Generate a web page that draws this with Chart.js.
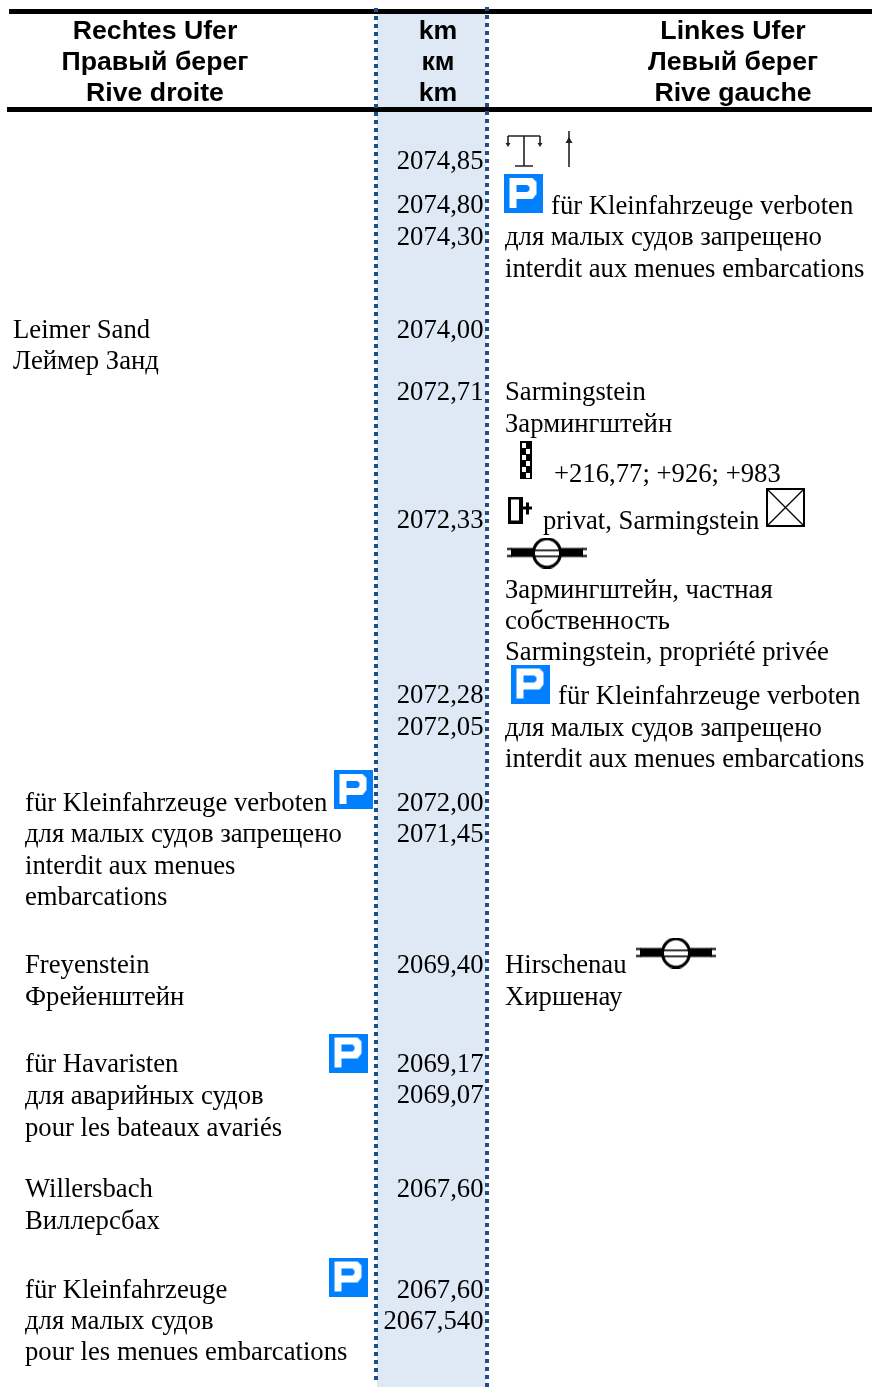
<!DOCTYPE html>
<html><head><meta charset="utf-8">
<script src="https://cdn.jsdelivr.net/npm/chart.js@4"></script>
<style>html,body{margin:0;padding:0;background:#fff;overflow:hidden}canvas{display:block}</style>
</head><body><canvas id="c" width="872" height="1387"></canvas>
<script>
// ---- data: text of each column and where it sits on the sheet's axes ----
const headerRight = ["Rechtes Ufer", "Правый берег", "Rive droite"];
const headerKm = ["km", "км", "km"];
const headerLeft = ["Linkes Ufer", "Левый берег", "Rive gauche"];
const headerRows = [30, 61, 92.5];

const kmLabels = ["2074,85","2074,80","2074,30","2074,00","2072,71","2072,33","2072,28","2072,05","2072,00","2071,45","2069,40","2069,17","2069,07","2067,60","2067,60","2067,540"];
const kmRows = [160,204,236,329,391,519,694,726,802,833,964,1063,1094,1188,1289,1320];

const rightBankLines = ["Leimer Sand","Леймер Занд","für Kleinfahrzeuge verboten","для малых судов запрещено","interdit aux menues","embarcations","Freyenstein","Фрейенштейн","für Havaristen","для аварийных судов","pour les bateaux avariés","Willersbach","Виллерсбах","für Kleinfahrzeuge","для малых судов","pour les menues embarcations"];
const rightBankRows = [329,360,802,833,865,896,964,996,1063,1095,1127,1188,1220,1289,1320,1351];
const rightBankCols = [13,13,25,25,25,25,25,25,25,25,25,25,25,25,25,25];

const leftBankLines = ["für Kleinfahrzeuge verboten","для малых судов запрещено","interdit aux menues embarcations","Sarmingstein","Зармингштейн","+216,77; +926; +983","privat, Sarmingstein","Зармингштейн, частная","собственность","Sarmingstein, propriété privée","für Kleinfahrzeuge verboten","для малых судов запрещено","interdit aux menues embarcations","Hirschenau","Хиршенау"];
const leftBankRows = [205,236,268,391,423,473,520,589,620,651,695,727,758,964,996];
const leftBankCols = [551,505,505,505,505,554,543,505,505,505,558,505,505,505,505];

const parkingSigns = [{x:523,y:193.5},{x:530,y:684},{x:353,y:789.5},{x:348,y:1053},{x:348,y:1277}];
const cableSigns = [{x:547,y:553},{x:676,y:953}];
const ferrySign = [{x:524,y:151}];
const arrowSign = [{x:569,y:149}];
const checkerSign = [{x:526,y:460}];
const bollardSign = [{x:520,y:510}];
const crossSign = [{x:785.5,y:507.5}];

const bandEdges = [378, 485];
const sheetBottom = 1387;

// ---- icon artwork for the library's point styles ----
function art(w,h,fn){const c=document.createElement('canvas');c.width=w;c.height=h;const g=c.getContext('2d');fn(g,w,h);return c;}
const parkingArt = art(39,39,g=>{
  g.fillStyle='#0080ff';g.fillRect(0,0,39,39);
  g.fillStyle='#fff';g.beginPath();
  g.moveTo(6,4);g.lineTo(29,4);g.lineTo(33,8);g.lineTo(33,20);g.lineTo(29,25);g.lineTo(13,25);g.lineTo(13,34);g.lineTo(6,34);g.closePath();
  g.moveTo(13,11);g.lineTo(13,18);g.lineTo(24,18);g.lineTo(26,16);g.lineTo(26,13);g.lineTo(24,11);g.closePath();
  g.fill('evenodd');
});
function cableDraw(g){
  g.fillStyle='#000';
  g.fillRect(4,10.5,72,9);
  g.fillRect(0,10.5,5,2);g.fillRect(0,17.5,5,2);
  g.fillRect(75,10.5,5,2);g.fillRect(75,17.5,5,2);
  g.beginPath();g.ellipse(40,15.5,13.5,14.3,0,0,Math.PI*2);g.fillStyle='#fff';g.fill();g.lineWidth=3;g.strokeStyle='#000';g.stroke();
  g.fillStyle='#000';g.fillRect(27,12,26,1.6);g.fillRect(27,18,26,1.6);
}
const cableArt = art(80,31,cableDraw);
const ferryArt = art(38,34,g=>{
  g.strokeStyle='#222';g.lineWidth=1.6;g.beginPath();
  g.moveTo(3,2);g.lineTo(35,2);g.moveTo(19,2);g.lineTo(19,32);g.moveTo(10,32);g.lineTo(28,32);
  g.moveTo(3,2);g.lineTo(3,11);g.moveTo(35,2);g.lineTo(35,11);g.stroke();
  g.fillStyle='#222';
  [3,35].forEach(x=>{g.beginPath();g.moveTo(x-2.5,9);g.lineTo(x+2.5,9);g.lineTo(x,13);g.closePath();g.fill();});
});
const arrowArt = art(10,38,g=>{
  g.strokeStyle='#222';g.lineWidth=1.6;g.beginPath();g.moveTo(5,1);g.lineTo(5,37);g.stroke();
  g.fillStyle='#222';g.beginPath();g.moveTo(5,7);g.lineTo(8.5,13);g.lineTo(1.5,13);g.closePath();g.fill();
});
const checkerArt = art(12,38,g=>{
  g.fillStyle='#000';g.fillRect(0,0,12,38);
  g.fillStyle='#fff';
  for(let r=0;r<6;r++){g.fillRect(r%2?6:2,2+r*6,4,5);}
});
const bollardArt = art(24,27,g=>{
  g.fillStyle='#000';g.fillRect(0,0,15,27);
  g.fillStyle='#fff';g.fillRect(3,3,8,21);
  g.fillStyle='#000';g.fillRect(15,10,9,3);g.fillRect(18,6,3,12);
});
const crossArt = art(39,39,g=>{
  g.strokeStyle='#000';g.lineWidth=2;g.strokeRect(1,1,37,37);
  g.lineWidth=1.3;g.beginPath();g.moveTo(1,1);g.lineTo(38,38);g.moveTo(38,1);g.lineTo(1,38);g.stroke();
});

// ---- text layer, placed through the chart's scales ----
const sansBold = 'bold 26.7px "Liberation Sans"';
const serif = '26.7px "Liberation Serif"';
const textLayer = {
  id:'textLayer',
  afterDatasetsDraw(ch){
    const {ctx,scales:{x,y}}=ch;
    const put=(t,cx,cy,font,align)=>{ctx.font=font;ctx.textAlign=align;ctx.textBaseline='alphabetic';ctx.fillStyle='#000';ctx.fillText(t,x.getPixelForValue(cx),y.getPixelForValue(cy)+8.5);};
    ctx.save();
    headerRows.forEach((r,i)=>{
      put(headerRight[i],155,r,sansBold,'center');
      put(headerKm[i],438,r,sansBold,'center');
      put(headerLeft[i],733,r,sansBold,'center');
    });
    kmLabels.forEach((t,i)=>put(t,483.5,kmRows[i],serif,'right'));
    rightBankLines.forEach((t,i)=>put(t,rightBankCols[i],rightBankRows[i],serif,'left'));
    leftBankLines.forEach((t,i)=>put(t,leftBankCols[i],leftBankRows[i],serif,'left'));
    ctx.restore();
  }
};

const rule=(x0,x1,y)=>({type:'line',data:[{x:x0,y},{x:x1,y}],borderColor:'#000',borderWidth:5,pointRadius:0,order:5});
const dots=(x,y0,y1)=>({type:'line',data:[{x,y:y0},{x,y:y1}],borderColor:'#1f4e87',borderWidth:4,borderDash:[4,4],pointRadius:0,order:1});
const icon=(data,img)=>({type:'scatter',data,pointStyle:img,pointRadius:10,order:3});

new Chart(document.getElementById('c'),{
  type:'scatter',
  data:{datasets:[
    {type:'line',data:[{x:(bandEdges[0]+bandEdges[1])/2,y:9},{x:(bandEdges[0]+bandEdges[1])/2,y:sheetBottom}],borderColor:'#dfe8f5',borderWidth:bandEdges[1]-bandEdges[0]+2,pointRadius:0,order:9},
    rule(9,872,11.5),
    rule(7,872,109.5),
    dots(376,8,1381),
    dots(487,7,1387),
    icon(parkingSigns,parkingArt),
    icon(cableSigns,cableArt),
    icon(ferrySign,ferryArt),
    icon(arrowSign,arrowArt),
    icon(checkerSign,checkerArt),
    icon(bollardSign,bollardArt),
    icon(crossSign,crossArt)
  ]},
  options:{
    responsive:false,animation:false,
    layout:{padding:0,autoPadding:false},
    events:[],
    plugins:{legend:{display:false},tooltip:{enabled:false}},
    scales:{
      x:{type:'linear',min:0,max:872,display:false},
      y:{type:'linear',min:0,max:1387,reverse:true,display:false}
    }
  },
  plugins:[textLayer]
});
</script></body></html>
